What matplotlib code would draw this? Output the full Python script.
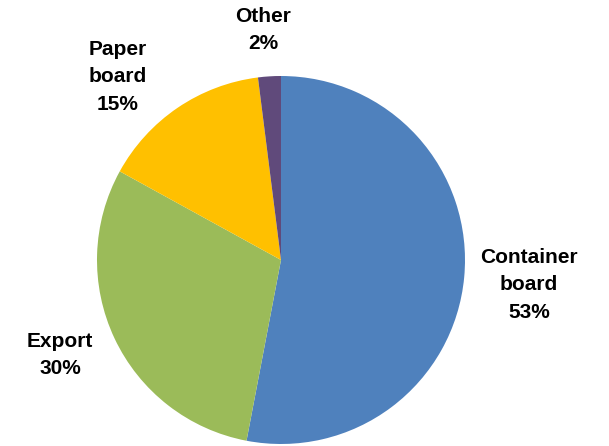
import matplotlib
matplotlib.use('Agg')
import matplotlib.pyplot as plt

CATEGORIES = ['Container\nboard', 'Export', 'Paper\nboard', 'Other']
SHARES     = [53, 30, 15, 2]
COLORS     = ['#4F81BD', '#9BBB59', '#FFC000', '#604A7B']
# label anchor (pixels from top-left) for each slice
LABEL_POS  = [(529, 285), (60, 355), (118, 77), (263, 30)]

W, H = 609, 446
fig = plt.figure(figsize=(W / 100, H / 100), dpi=100)
ax = fig.add_axes([0, 0, 1, 1])

ax.pie(SHARES, colors=COLORS, startangle=90, counterclock=False,
       center=(281, H - 260), radius=184, frame=True)
ax.set_xlim(0, W)
ax.set_ylim(0, H)
ax.set_aspect('equal')
ax.axis('off')

for name, val, (x, y) in zip(CATEGORIES, SHARES, LABEL_POS):
    ax.text(x, H - y, f'{name}\n{val}%', ha='center', va='center',
            fontsize=15, fontweight='bold', family='Liberation Sans',
            linespacing=1.55)

fig.savefig('out.png', dpi=100)
